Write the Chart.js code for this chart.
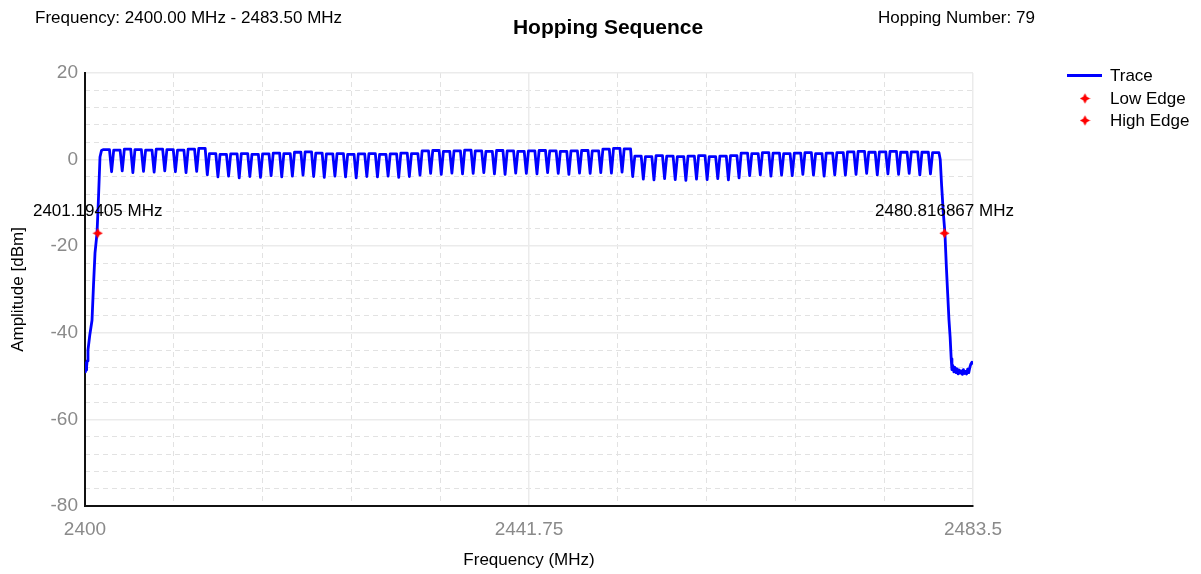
<!DOCTYPE html>
<html>
<head>
<meta charset="utf-8">
<title>Hopping Sequence</title>
<script src="https://cdn.jsdelivr.net/npm/chart.js@4.4.1/dist/chart.umd.min.js"></script>
<style>
  html, body { margin: 0; padding: 0; background: #fff; }
  #wrap { width: 1201px; height: 574px; }
</style>
</head>
<body>
<div id="wrap"><canvas id="chart" width="1201" height="574"></canvas></div>
<script>
const FONT = '"Liberation Sans", Arial, sans-serif';

const freqRange = [2400, 2483.5];
const ampRange = [-80, 20];
const xTickValues = [2400, 2441.75, 2483.5];
const yTickValues = [-80, -60, -40, -20, 0, 20];

const headerLeft = "Frequency: 2400.00 MHz - 2483.50 MHz";
const headerRight = "Hopping Number: 79";
const titleText = "Hopping Sequence";

// 79 hop channels on the 1 MHz raster starting at 2402 MHz
const firstChannel = 2402;
// flat top level of each channel (dBm)
const peakLevels = [
  2.3, 2.2, 2.4, 2.3, 2.2, 2.4, 2.3, 2.2, 2.4, 2.6,
  1.4, 1.2, 1.3, 1.4, 1.2, 1.3, 1.5, 1.4, 1.7, 1.8,
  1.5, 1.3, 1.4, 1.2, 1.3, 1.4, 1.2, 1.3, 1.5, 1.4,
  2.0, 2.1, 1.9, 2.0, 2.2, 2.0, 1.9, 2.1, 2.0, 1.9,
  2.0, 2.1, 2.0, 1.9, 2.0, 2.1, 2.0, 2.4, 2.6, 2.5,
  0.8, 0.7, 0.9, 0.8, 0.7, 0.8, 0.9, 0.7, 0.8, 0.9,
  1.5, 1.4, 1.6, 1.5, 1.4, 1.5, 1.6, 1.4, 1.5, 1.6,
  1.8, 1.9, 1.7, 1.8, 1.9, 1.7, 1.8, 1.7, 1.6
];
// notch between channel k and k+1 (dBm)
const dipLevels = [
  -2.8, -2.6, -3.0, -2.7, -2.9, -2.6, -2.8, -3.0, -2.7, -3.5,
  -4.0, -3.8, -4.2, -3.9, -4.1, -3.7, -4.0, -3.8, -3.6, -3.9,
  -4.1, -3.8, -4.0, -4.2, -3.9, -4.0, -3.8, -4.1, -3.9, -3.6,
  -3.2, -3.4, -3.1, -3.3, -3.2, -3.0, -3.3, -3.4, -3.1, -3.2,
  -3.3, -3.0, -3.2, -3.4, -3.1, -3.2, -3.0, -3.1, -2.9, -3.9,
  -4.5, -4.7, -4.4, -4.6, -4.8, -4.5, -4.6, -4.4, -4.7, -4.2,
  -3.7, -3.5, -3.8, -3.6, -3.7, -3.4, -3.6, -3.8, -3.5, -3.6,
  -3.4, -3.2, -3.5, -3.3, -3.4, -3.2, -3.5, -3.3
];

// noise floor and rising skirt below the first channel
const riseFreq = [2400.0, 2400.03, 2400.06, 2400.1, 2400.15, 2400.2, 2400.28, 2400.45, 2400.66, 2400.8, 2400.94, 2401.13, 2401.25, 2401.41, 2401.55];
const riseAmp  = [-47.5, -49.0, -47.0, -48.6, -47.8, -46.5, -44.0, -40.5, -37.1, -29.0, -21.6, -17.0, -10.0, 0.6, 2.1];

// falling skirt and noise floor above the last channel
const fallFreq = [2480.42, 2480.55, 2480.7, 2480.86, 2481.0, 2481.12, 2481.24, 2481.35, 2481.45, 2481.52,
  2481.6, 2481.7, 2481.8, 2481.9, 2482.0, 2482.1, 2482.2, 2482.3, 2482.4, 2482.5,
  2482.6, 2482.7, 2482.8, 2482.9, 2483.0, 2483.1, 2483.2, 2483.3, 2483.4, 2483.5];
const fallAmp = [0.0, -6.0, -12.0, -17.0, -25.0, -31.0, -37.0, -41.0, -46.0, -48.5,
  -47.5, -49.0, -48.0, -49.2, -48.3, -49.5, -48.6, -49.3, -48.8, -49.6,
  -48.5, -49.4, -48.9, -49.5, -48.4, -49.2, -48.0, -47.2, -46.8, -47.3];

const lowEdge = { freq: 2401.19405, amp: -17.0, label: "2401.19405 MHz" };
const highEdge = { freq: 2480.816867, amp: -17.0, label: "2480.816867 MHz" };

function buildTrace() {
  const pts = riseFreq.map((f, i) => ({ x: f, y: riseAmp[i] }));
  peakLevels.forEach((p, k) => {
    const c = firstChannel + k;
    pts.push({ x: c - 0.3, y: p });
    pts.push({ x: c + 0.3, y: p });
    if (k < dipLevels.length) pts.push({ x: c + 0.5, y: dipLevels[k] });
  });
  fallFreq.forEach((f, i) => pts.push({ x: f, y: fallAmp[i] }));
  return pts;
}

// small red four-point star used for the edge markers
function makeStar(size) {
  const cv = document.createElement("canvas");
  cv.width = size;
  cv.height = size;
  const g = cv.getContext("2d");
  const c = size / 2, r = size / 2 - 0.3, ri = size * 0.24;
  g.fillStyle = "#ff0000";
  g.beginPath();
  for (let i = 0; i < 8; i++) {
    const a = -Math.PI / 2 + i * Math.PI / 4;
    const rr = i % 2 === 0 ? r : ri;
    const px = c + rr * Math.cos(a), py = c + rr * Math.sin(a);
    if (i === 0) g.moveTo(px, py); else g.lineTo(px, py);
  }
  g.closePath();
  g.fill();
  return cv;
}
const star = makeStar(11);

const GRID_SOLID = "#ebebeb";
const GRID_DASH = "#e2e2e2";
const TICK_COLOR = "#8a8a8a";

const overlay = {
  id: "overlay",
  afterDraw(chart) {
    const ctx = chart.ctx;
    ctx.save();
    ctx.fillStyle = "#000";
    ctx.textBaseline = "middle";

    ctx.font = `17px ${FONT}`;
    ctx.textAlign = "left";
    ctx.fillText(headerLeft, 35, 18);
    ctx.fillText(headerRight, 878, 18);

    ctx.font = `bold 21px ${FONT}`;
    ctx.textAlign = "center";
    ctx.fillText(titleText, 608, 28);

    // legend
    ctx.font = `17px ${FONT}`;
    ctx.textAlign = "left";
    ctx.strokeStyle = "#0000ff";
    ctx.lineWidth = 3;
    ctx.beginPath();
    ctx.moveTo(1067, 75.5);
    ctx.lineTo(1102, 75.5);
    ctx.stroke();
    ctx.fillText("Trace", 1110, 76);
    ctx.drawImage(star, 1085 - 5.5, 98.5 - 5.5);
    ctx.fillText("Low Edge", 1110, 99);
    ctx.drawImage(star, 1085 - 5.5, 120.5 - 5.5);
    ctx.fillText("High Edge", 1110, 121);

    // edge labels above the markers
    ctx.textAlign = "center";
    [1, 2].forEach((di) => {
      const pt = chart.getDatasetMeta(di).data[0];
      const lbl = di === 1 ? lowEdge.label : highEdge.label;
      ctx.fillText(lbl, pt.x, pt.y - 22);
    });
    ctx.restore();
  },
};

new Chart(document.getElementById("chart"), {
  type: "line",
  data: {
    datasets: [
      {
        label: "Trace",
        data: buildTrace(),
        borderColor: "#0000ff",
        borderWidth: 2.8,
        borderJoinStyle: "round",
        pointRadius: 0,
        tension: 0,
        order: 2,
        xAxisID: "x",
        yAxisID: "y",
      },
      {
        label: "Low Edge",
        data: [{ x: lowEdge.freq, y: lowEdge.amp }],
        showLine: false,
        pointStyle: star,
        pointRadius: 5,
        order: 1,
        xAxisID: "x",
        yAxisID: "y",
      },
      {
        label: "High Edge",
        data: [{ x: highEdge.freq, y: highEdge.amp }],
        showLine: false,
        pointStyle: star,
        pointRadius: 5,
        order: 1,
        xAxisID: "x",
        yAxisID: "y",
      },
    ],
  },
  options: {
    responsive: false,
    animation: false,
    layout: { padding: { top: 73, right: 228, left: 0, bottom: 0 } },
    plugins: { legend: { display: false }, tooltip: { enabled: false } },
    scales: {
      xMinor: {
        type: "linear",
        position: "bottom",
        min: freqRange[0],
        max: freqRange[1],
        afterBuildTicks: (s) => {
          const step = (freqRange[1] - freqRange[0]) / 10;
          s.ticks = Array.from({ length: 11 }, (_, i) => ({ value: freqRange[0] + i * step }));
        },
        afterFit: (s) => { s.height = 0; },
        ticks: { display: false },
        grid: {
          drawTicks: false,
          lineWidth: 1,
          color: (c) => (c.index % 5 === 0 ? "rgba(0,0,0,0)" : GRID_DASH),
        },
        border: { display: false, dash: [5, 4] },
      },
      yMinor: {
        type: "linear",
        position: "left",
        min: ampRange[0],
        max: ampRange[1],
        ticks: { display: false, stepSize: 4 },
        afterFit: (s) => { s.width = 0; },
        grid: {
          drawTicks: false,
          lineWidth: 1,
          color: (c) => (c.tick && c.tick.value % 20 === 0 ? "rgba(0,0,0,0)" : GRID_DASH),
        },
        border: { display: false, dash: [5, 4] },
      },
      x: {
        type: "linear",
        position: "bottom",
        min: freqRange[0],
        max: freqRange[1],
        afterBuildTicks: (s) => { s.ticks = xTickValues.map((v) => ({ value: v })); },
        afterFit: (s) => { s.height = 68; },
        ticks: {
          color: TICK_COLOR,
          font: { family: FONT, size: 19 },
          padding: 12,
          maxRotation: 0,
          autoSkip: false,
          callback: (v) => String(v),
        },
        grid: { drawTicks: false, color: GRID_SOLID, lineWidth: 1.5 },
        border: { display: true, color: "#111", width: 2 },
        title: {
          display: true,
          text: "Frequency (MHz)",
          color: "#000",
          font: { family: FONT, size: 17 },
          padding: { top: 3, bottom: 3 },
        },
      },
      y: {
        type: "linear",
        position: "left",
        min: ampRange[0],
        max: ampRange[1],
        afterBuildTicks: (s) => { s.ticks = yTickValues.map((v) => ({ value: v })); },
        afterFit: (s) => { s.width = 85; },
        ticks: {
          color: TICK_COLOR,
          font: { family: FONT, size: 19 },
          padding: 7,
          callback: (v) => String(v),
        },
        grid: { drawTicks: false, color: GRID_SOLID, lineWidth: 1.5 },
        border: { display: true, color: "#111", width: 2 },
        title: {
          display: true,
          text: "Amplitude [dBm]",
          color: "#000",
          font: { family: FONT, size: 17 },
          padding: { top: 8, bottom: 8 },
        },
      },
    },
  },
  plugins: [overlay],
});
</script>
</body>
</html>
